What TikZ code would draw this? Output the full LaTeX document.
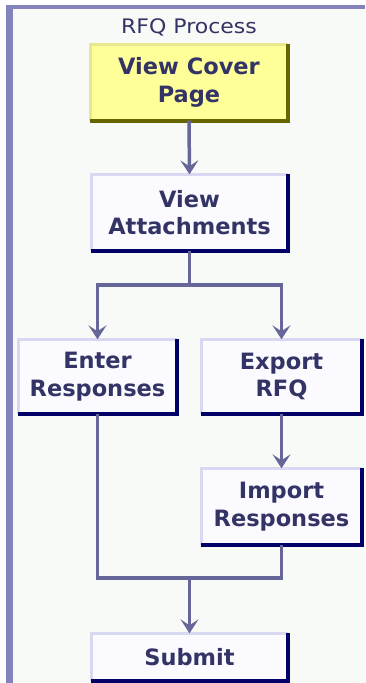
\documentclass[tikz,border=0pt]{standalone}
\usepackage{fontspec}
\setmainfont{DejaVu Sans}
\usetikzlibrary{arrows.meta}
\definecolor{bgc}{HTML}{F8FAF7}
\definecolor{framec}{HTML}{8484BC}
\definecolor{arrc}{HTML}{666699}
\definecolor{boxfill}{HTML}{FAFAFF}
\definecolor{boxlight}{HTML}{D8D8F2}
\definecolor{boxdark}{HTML}{000066}
\definecolor{yelfill}{HTML}{FFFF99}
\definecolor{yellight}{HTML}{E8E890}
\definecolor{yeldark}{HTML}{666600}
\definecolor{txtc}{HTML}{333366}
\newcommand\bevelbox[3]{%
  \draw[#2,line width=3pt] (#1.south west) -- (#1.north west) -- (#1.north east);
  \draw[#3,line width=4pt] (#1.north east) -- (#1.south east) -- (#1.south west);}
\begin{document}
\begin{tikzpicture}[x=1pt,y=-1pt,
  stepbox/.style={rectangle,inner sep=0pt,fill=boxfill,text=txtc,align=center,
    font=\fontsize{22.5}{27.5}\selectfont\bfseries},
  conn/.style={draw=arrc,line width=3.5pt},
  arr/.style={conn,-{Stealth[length=14pt,width=18pt,inset=6pt]}}]
\useasboundingbox (0,0) rectangle (365,683);
\fill[white] (0,0) rectangle (365,683);
\fill[bgc] (13,9) rectangle (365,683);
\fill[framec] (6,5) rectangle (13,683);
\fill[framec] (6,5) rectangle (365,9);
\node[text=txtc] (title) at (189,27) {\scalebox{1.1}[1]{\fontsize{20}{22}\selectfont RFQ Process}};
\node[stepbox,fill=yelfill,minimum width=197pt,minimum height=76pt] (cover) at (189,82.5) {View Cover\\Page};
\bevelbox{cover}{yellight}{yeldark}
\node[stepbox,minimum width=196pt,minimum height=76pt] (attach) at (189.5,212.5) {View\\Attachments};
\bevelbox{attach}{boxlight}{boxdark}
\node[stepbox,minimum width=158pt,minimum height=74pt] (enter) at (97.5,376.5) {Enter\\Responses};
\bevelbox{enter}{boxlight}{boxdark}
\node[stepbox,minimum width=160pt,minimum height=74pt] (export) at (281.5,376.5) {Export\\RFQ};
\bevelbox{export}{boxlight}{boxdark}
\node[stepbox,minimum width=160pt,minimum height=76pt] (import) at (281.5,506.5) {Import\\Responses};
\bevelbox{import}{boxlight}{boxdark}
\node[stepbox,minimum width=196pt,minimum height=47pt] (submit) at (189.5,657) {Submit};
\bevelbox{submit}{boxlight}{boxdark}
\coordinate (j1) at (189.5,285);
\coordinate (j1l) at (97.5,285);
\coordinate (j1r) at (281.5,285);
\coordinate (j2l) at (97.5,578);
\coordinate (j2r) at (281.5,578);
\coordinate (j2) at (189.5,578);
\draw[arr] (cover.south) -- (attach.north);
\draw[conn] (attach.south) -- (j1);
\draw[conn,line cap=rect] (j1l) -- (j1r);
\draw[arr] (j1l) -- (enter.north);
\draw[arr] (j1r) -- (export.north);
\draw[arr] (export.south) -- (import.north);
\draw[conn] (enter.south) -- (j2l) -- (j2r) -- (import.south);
\draw[arr] (j2) -- (submit.north);
\end{tikzpicture}
\end{document}
